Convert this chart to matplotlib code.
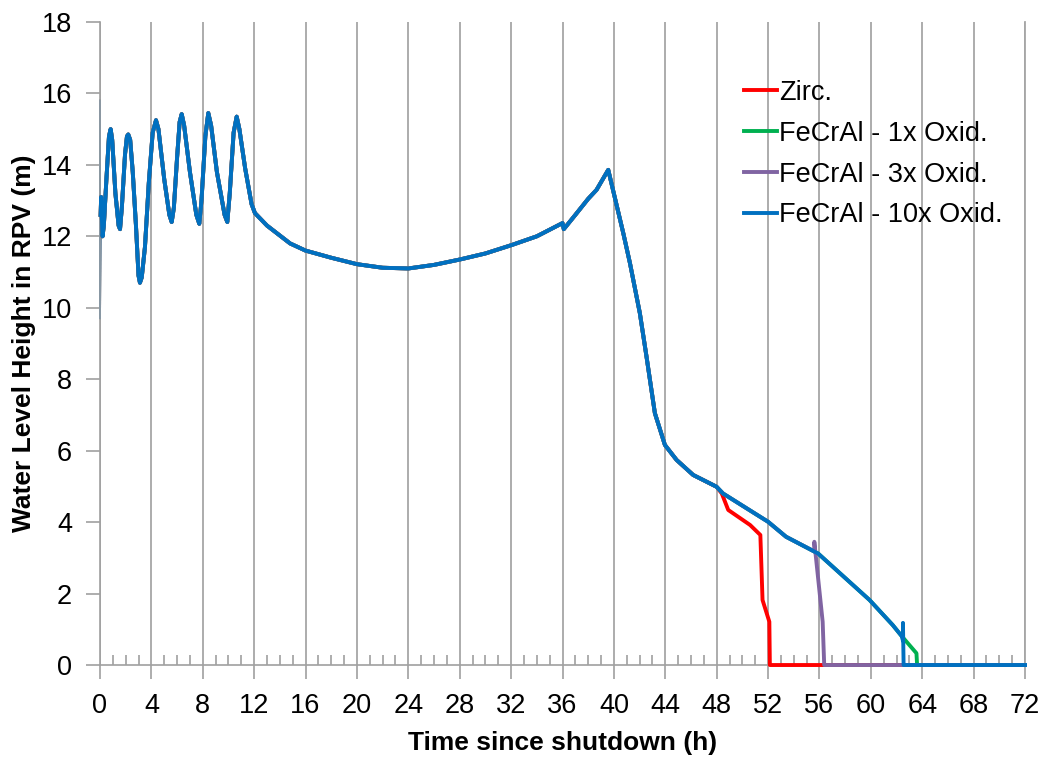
import numpy as np
import matplotlib
matplotlib.use("Agg")
import matplotlib.pyplot as plt
from matplotlib.ticker import MultipleLocator

plt.rcParams["font.family"] = ["Liberation Sans", "DejaVu Sans"]

# initial spike right at shutdown (thin trace)
spike_t = [0.0, 0.01, 0.05]
spike_h = [15.8, 9.7, 12.6]

# shared trajectory (all four cases overlap up to ~48 h)
base_t = [0.05, 0.09, 0.2, 0.3, 0.5, 0.7, 0.83, 0.95, 1.2, 1.45, 1.56, 1.7, 1.95,
          2.1, 2.2, 2.35, 2.55, 2.8, 3.0, 3.11, 3.25, 3.5, 3.8, 4.1, 4.36, 4.55,
          5.0, 5.4, 5.58, 5.75, 6.0, 6.2, 6.36, 6.55, 7.0, 7.5, 7.73, 7.9, 8.2,
          8.43, 8.65, 9.1, 9.7, 9.91, 10.1, 10.4, 10.64, 10.85, 11.3, 11.8, 12.06,
          13.0, 14.8, 16, 18, 20, 22, 24, 26, 28, 30, 32, 34, 36.0, 36.1, 37, 38,
          38.65, 39.56, 40.73, 41.25, 42.02, 42.54, 43.19, 43.97, 44.88, 46.17,
          47.99]
base_h = [12.6, 13.1, 12.0, 12.3, 13.6, 14.8, 15.0, 14.7, 13.2, 12.3, 12.2, 12.8,
          14.3, 14.8, 14.85, 14.7, 13.8, 12.3, 10.9, 10.7, 10.85, 11.7, 13.5, 14.9,
          15.25, 15.0, 13.6, 12.6, 12.4, 12.8, 14.2, 15.2, 15.42, 15.1, 13.8, 12.6,
          12.35, 13.0, 14.8, 15.45, 15.1, 13.8, 12.6, 12.4, 13.2, 14.9, 15.35,
          15.0, 13.9, 12.9, 12.65, 12.3, 11.8, 11.6, 11.4, 11.22, 11.12, 11.1,
          11.2, 11.35, 11.52, 11.75, 12.0, 12.37, 12.2, 12.6, 13.05, 13.3, 13.86,
          12.09, 11.25, 9.85, 8.63, 7.05, 6.16, 5.74, 5.32, 4.99]

# divergent tails
zirc_t = [48.4, 48.9, 50.6, 51.4, 51.57, 52.1, 52.14, 72]
zirc_h = [4.8, 4.34, 3.92, 3.64, 1.82, 1.21, 0.0, 0.0]

fe1_t = [48.5, 52.0, 53.4, 55.9, 59.9, 61.7, 62.4, 63.55, 63.6, 72]
fe1_h = [4.8, 4.01, 3.59, 3.12, 1.82, 1.12, 0.81, 0.33, 0.0, 0.0]

fe3_t = [48.5, 52.0, 53.4, 55.6, 55.6, 56.25, 56.37, 72]
fe3_h = [4.8, 4.01, 3.59, 3.18, 3.45, 1.21, 0.0, 0.0]

fe10_t = [48.5, 52.0, 53.4, 55.9, 59.9, 61.7, 62.4, 62.5, 62.5, 62.55, 72]
fe10_h = [4.8, 4.01, 3.59, 3.12, 1.82, 1.12, 0.81, 0.68, 1.18, 0.0, 0.0]

series = [
    ("Zirc.", zirc_t, zirc_h, "#FF0000"),
    ("FeCrAl - 1x Oxid.", fe1_t, fe1_h, "#00B050"),
    ("FeCrAl - 3x Oxid.", fe3_t, fe3_h, "#8064A2"),
    ("FeCrAl - 10x Oxid.", fe10_t, fe10_h, "#0070C0"),
]

fig = plt.figure(figsize=(10.47, 7.57), dpi=100)
ax = fig.add_axes([0.0955, 0.1215, 0.8835, 0.8495])

for name, tt, hh, col in series:
    t = base_t + tt
    h = base_h + hh
    ax.plot(spike_t, spike_h, color=col, lw=1.2, alpha=0.8, clip_on=False)
    ax.plot(t, h, color=col, lw=2.8, label=name, solid_joinstyle="round",
            clip_on=False, zorder=3)

ax.set_xlim(0, 72)
ax.set_ylim(0, 18)
ax.xaxis.set_major_locator(MultipleLocator(4))
ax.xaxis.set_minor_locator(MultipleLocator(1))
ax.yaxis.set_major_locator(MultipleLocator(2))

ax.grid(axis="x", which="major", color="#A6A6A6", lw=1.3)
ax.set_axisbelow(True)

ax.spines["top"].set_visible(False)
ax.spines["right"].set_color("#A6A6A6")
ax.spines["right"].set_linewidth(1.3)
for s in ["left", "bottom"]:
    ax.spines[s].set_color("#A0A0A0")
    ax.spines[s].set_linewidth(1.2)

ax.tick_params(axis="x", which="major", direction="out", length=10, width=1.2,
               color="#A0A0A0", labelsize=19.5, pad=10)
ax.tick_params(axis="x", which="minor", direction="in", length=7, width=1.2,
               color="#A0A0A0")
ax.tick_params(axis="y", direction="out", length=10, width=1.2, color="#A0A0A0",
               labelsize=19.5, pad=10)
ax.tick_params(axis="y", which="both", right=False)

ax.set_xlabel("Time since shutdown (h)", fontsize=19, fontweight="bold", labelpad=9)
ax.set_ylabel("Water Level Height in RPV (m)", fontsize=19, fontweight="bold", labelpad=4)

leg = ax.legend(loc="upper left", bbox_to_anchor=(0.6846, 0.927), frameon=False,
                fontsize=19.5, handlelength=1.2, handletextpad=0.1, labelspacing=0.55,
                borderaxespad=0)

fig.savefig("out.png", dpi=100)
